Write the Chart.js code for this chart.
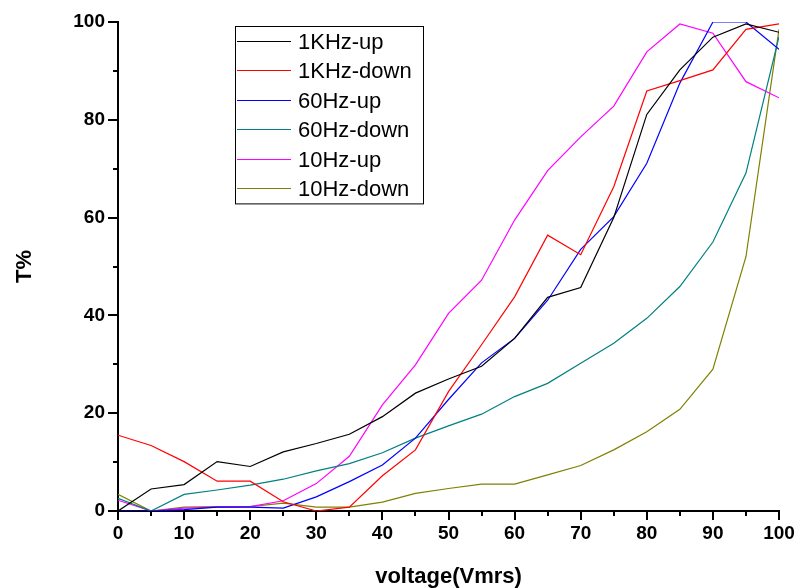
<!DOCTYPE html>
<html>
<head>
<meta charset="utf-8">
<script src="https://cdn.jsdelivr.net/npm/chart.js@4"></script>
<style>
  html, body { margin: 0; padding: 0; background: #fff; }
  #wrap { width: 798px; height: 588px; }
</style>
</head>
<body>
<div id="wrap"><canvas id="c" width="798" height="588"></canvas></div>
<script>
// voltage steps (Vmrs)
const voltage = [0, 5, 10, 15, 20, 25, 30, 35, 40, 45, 50, 55, 60, 65, 70, 75, 80, 85, 90, 95, 100];

// transmittance T% for each drive frequency / sweep direction
const khz1Up    = [0, 4.5, 5.4, 10.1, 9.1, 12.1, 13.8, 15.7, 19.3, 24.1, 27, 29.6, 35.3, 43.7, 45.7, 60, 81.1, 90.2, 96.9, 99.6, 97.9];
const khz1Down  = [15.5, 13.4, 10.1, 6.1, 6.1, 1.9, 0, 0.8, 7.2, 12.5, 24.4, 34, 43.8, 56.4, 52.4, 66.3, 85.9, 88, 90.2, 98.5, 99.6];
const hz60Up    = [0, 0, 0.3, 0.8, 0.8, 0.6, 2.9, 6, 9.4, 14.9, 22.8, 30.3, 35.3, 43.1, 53.5, 60.2, 71.1, 87.5, 100, 100, 94.4];
const hz60Down  = [2.6, 0, 3.4, 4.3, 5.3, 6.5, 8.2, 9.7, 11.9, 14.9, 17.4, 19.8, 23.4, 26.1, 30.2, 34.3, 39.4, 45.9, 55, 69.1, 97];
const hz10Up    = [2.2, 0, 0.6, 0.8, 0.9, 2.1, 5.6, 11.2, 21.7, 29.9, 40.4, 47.2, 59.5, 69.6, 76.5, 82.8, 93.9, 99.6, 97.7, 87.8, 84.5];
const hz10Down  = [3.4, 0, 0.8, 0.9, 0.9, 1.6, 0.8, 0.8, 1.8, 3.6, 4.6, 5.5, 5.5, 7.4, 9.3, 12.5, 16.2, 20.8, 29, 52, 98.5];

const seriesNames  = ['1KHz-up', '1KHz-down', '60Hz-up', '60Hz-down', '10Hz-up', '10Hz-down'];
const seriesValues = [khz1Up, khz1Down, hz60Up, hz60Down, hz10Up, hz10Down];
const seriesColors = ['#000000', '#ff0000', '#0000ff', '#008080', '#ff00ff', '#808000'];

const datasets = seriesNames.map((name, i) => ({
  label: name,
  data: voltage.map((v, j) => ({ x: v, y: seriesValues[i][j] })),
  borderColor: seriesColors[i],
  backgroundColor: seriesColors[i],
  borderWidth: 1.2,
  pointRadius: 0,
  tension: 0,
  fill: false
}));

// short minor ticks between the labelled ones
const minorTicks = {
  id: 'minorTicks',
  afterDraw(chart) {
    const { ctx, scales: { x, y } } = chart;
    ctx.save();
    ctx.strokeStyle = '#000';
    ctx.lineWidth = 2;
    ctx.beginPath();
    for (let v = 5; v < 100; v += 10) {
      const px = Math.round(x.getPixelForValue(v));
      ctx.moveTo(px, x.top);
      ctx.lineTo(px, x.top + 5);
    }
    for (let v = 10; v < 100; v += 20) {
      const py = Math.round(y.getPixelForValue(v));
      ctx.moveTo(y.right, py);
      ctx.lineTo(y.right - 5, py);
    }
    ctx.stroke();
    ctx.restore();
  }
};

// boxed legend inside the plot area
const boxLegend = {
  id: 'boxLegend',
  afterDraw(chart) {
    const { ctx } = chart;
    const left = 235, top = 26, w = 188, rowH = 29.4;
    ctx.save();
    ctx.fillStyle = '#fff';
    ctx.fillRect(left, top, w, rowH * 6 + 1);
    ctx.strokeStyle = '#000';
    ctx.lineWidth = 1;
    ctx.strokeRect(left + 0.5, top + 0.5, w, rowH * 6 + 1);
    ctx.font = '22px "Liberation Sans", Arial, sans-serif';
    ctx.textBaseline = 'middle';
    ctx.fillStyle = '#000';
    chart.data.datasets.forEach((ds, i) => {
      const cy = Math.round(top + 15 + i * rowH) + 0.5;
      ctx.strokeStyle = ds.borderColor;
      ctx.beginPath();
      ctx.moveTo(left + 2, cy);
      ctx.lineTo(left + 56, cy);
      ctx.stroke();
      ctx.fillText(ds.label, left + 63, cy + 1);
    });
    ctx.restore();
  }
};

const tickFont = { family: '"Liberation Sans", Arial, sans-serif', size: 19, weight: 'bold' };
const titleFont = { family: '"Liberation Sans", Arial, sans-serif', size: 22, weight: 'bold' };

new Chart(document.getElementById('c'), {
  type: 'line',
  data: { datasets },
  options: {
    responsive: false,
    animation: false,
    layout: { padding: { top: 22, right: 19, left: 8, bottom: 0 } },
    plugins: { legend: { display: false }, tooltip: { enabled: false } },
    scales: {
      x: {
        type: 'linear',
        min: 0, max: 100,
        border: { color: '#000', width: 2 },
        grid: { drawOnChartArea: false, drawTicks: true, tickLength: 9, color: '#000', lineWidth: 2 },
        ticks: { stepSize: 10, color: '#000', font: tickFont, padding: 2, maxRotation: 0 },
        title: { display: true, text: 'voltage(Vmrs)', color: '#000', font: titleFont, padding: { top: 4, bottom: -2 } },
        afterFit(scale) { scale.height = 77; }
      },
      y: {
        min: 0, max: 100,
        border: { color: '#000', width: 2 },
        grid: { drawOnChartArea: false, drawTicks: true, tickLength: 10, color: '#000', lineWidth: 2 },
        ticks: { stepSize: 20, color: '#000', font: tickFont, padding: 3 },
        title: { display: true, text: 'T%', color: '#000', font: titleFont, padding: { bottom: 50 } },
        afterFit(scale) { scale.width = 110; }
      }
    }
  },
  plugins: [minorTicks, boxLegend]
});
</script>
</body>
</html>
